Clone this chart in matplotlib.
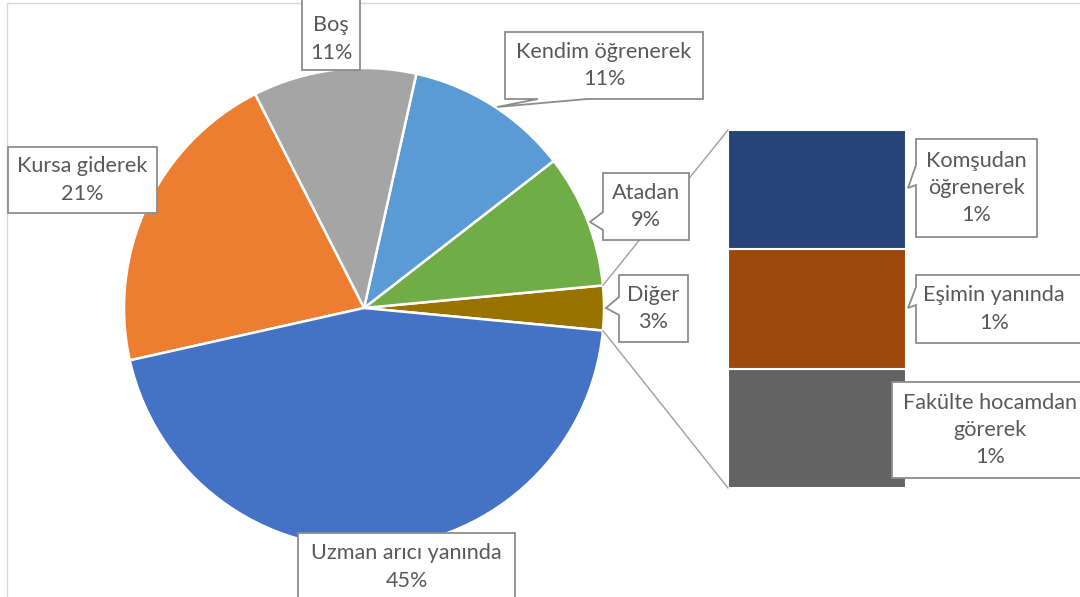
import matplotlib
matplotlib.use("Agg")
import matplotlib.pyplot as plt
from matplotlib.patches import Polygon, Rectangle, ConnectionPatch
import numpy as np

# ---------------- data ----------------
main_labels = ["Atadan", "Kendim öğrenerek", "Boş", "Kursa giderek", "Uzman arıcı yanında"]
main_values = [9, 11, 11, 21, 45]
main_colors = ["#70AD47", "#5B9BD5", "#A5A5A5", "#ED7D31", "#4472C4"]

other_label = "Diğer"
other_color = "#997300"

bar_labels = ["Komşudan\nöğrenerek", "Eşimin yanında", "Fakülte hocamdan\ngörerek"]
bar_values = [1, 1, 1]
bar_colors = ["#264478", "#9E480E", "#636363"]

# ---------------- figure ----------------
W, H = 1080, 597
plt.rcParams['font.family'] = ['Lato', 'DejaVu Sans']
fig = plt.figure(figsize=(W / 100, H / 100), dpi=100, facecolor="white")

def Y(y):
    return H - y

# bar-of-pie axes (stacked bar)
bax = fig.add_axes([728 / W, (H - 488) / H, 178 / W, 358 / H], zorder=1)
bottom = 0
for v, c in zip(reversed(bar_values), reversed(bar_colors)):
    bax.bar(0, v, bottom=bottom, width=1, color=c, edgecolor="white", linewidth=1.5)
    bottom += v
bax.set_xlim(-0.5, 0.5)
bax.set_ylim(0, sum(bar_values))
bax.axis("off")

# main axes in pixel coordinates
ax = fig.add_axes([0, 0, 1, 1], zorder=2)
ax.patch.set_alpha(0)

other_value = sum(bar_values)
pie_values = [other_value] + main_values
pie_colors = [other_color] + main_colors
total = sum(pie_values)
start = -360 * other_value / total / 2
cx, cy, R = 364, Y(308), 240
wedges, _ = ax.pie(pie_values, colors=pie_colors, startangle=start, counterclock=True,
                   center=(cx, cy), radius=R, frame=True,
                   wedgeprops=dict(edgecolor="white", linewidth=1.8))
ax.set_xlim(0, W)
ax.set_ylim(0, H)
ax.set_aspect("auto")
ax.axis("off")

# chart border
ax.add_patch(Rectangle((7, -10), W + 10, Y(3) + 10, fill=False, edgecolor="#D9D9D9",
                       linewidth=1.0, zorder=0))

# connector lines from "other" wedge to bar
ow = wedges[0]
for ang, corner in [(ow.theta2, (-0.5, sum(bar_values))), (ow.theta1, (-0.5, 0))]:
    px = cx + R * np.cos(np.radians(ang))
    py = cy + R * np.sin(np.radians(ang))
    con = ConnectionPatch(xyA=(px, py), coordsA=ax.transData, xyB=corner, coordsB=bax.transData,
                          color="#A6A6A6", linewidth=1.1, zorder=3)
    ax.add_artist(con)

# ---------------- callouts ----------------
TXT = "#595959"
EDGE = "#8C8C8C"
FS = 15.6

def callout(x0, y0, x1, y1, text, tx=None, ty=None, side=None, base=None, tip=None):
    pts = [(x0, y0), (x1, y0), (x1, y1)]
    if side == "bottom":
        pts += [(base[1], y1), tip, (base[0], y1)]
    pts += [(x0, y1)]
    if side == "left":
        pts += [(x0, base[1]), tip, (x0, base[0])]
    poly = Polygon([(x, Y(y)) for x, y in pts], closed=True, facecolor="white",
                   edgecolor=EDGE, linewidth=1.3, joinstyle="miter", zorder=5)
    ax.add_patch(poly)
    if tx is None:
        tx = (x0 + x1) / 2
    if ty is None:
        ty = (y0 + y1) / 2
    ax.text(tx, Y(ty), text, ha="center", va="center", color=TXT, fontsize=FS,
            linespacing=1.45, zorder=6)

def lab(name, val):
    return f"{name}\n{val}%"

callout(302, -5, 360, 70, lab(main_labels[2], main_values[2]), ty=39)
callout(505, 32, 703, 99, lab(main_labels[1], main_values[1]),
        side="bottom", base=(538, 587), tip=(497, 107))
callout(603, 173, 689, 240, lab(main_labels[0], main_values[0]),
        side="left", base=(212, 230), tip=(590, 222))
callout(619, 275, 688, 342, lab(other_label, other_value),
        side="left", base=(297, 315), tip=(606, 308))
callout(8, 147, 157, 213, lab(main_labels[3], main_values[3]))
callout(298, 533, 515, 612, lab(main_labels[4], main_values[4]), ty=567)
callout(916, 139, 1037, 237, lab(bar_labels[0], bar_values[0]),
        side="left", base=(165, 185), tip=(908, 188))
callout(916, 275, 1090, 343, lab(bar_labels[1], bar_values[1]), tx=994,
        side="left", base=(287, 305), tip=(908, 308))
callout(892, 382, 1090, 478, lab(bar_labels[2], bar_values[2]), tx=990)

fig.savefig("out.png", dpi=100, facecolor="white")
